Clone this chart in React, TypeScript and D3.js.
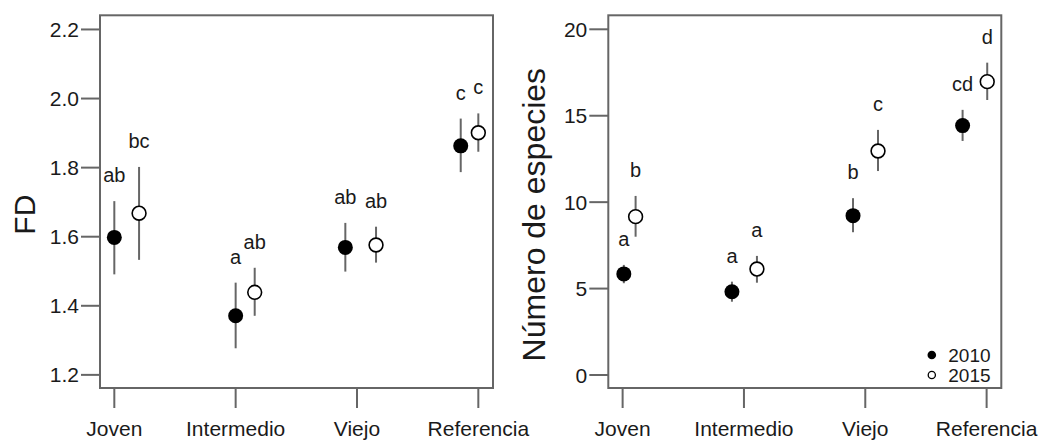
import React from "react";
import * as d3 from "d3";

const categories = ["Joven", "Intermedio", "Viejo", "Referencia"];

// Left panel: FD
const fdMean2010 = [1.598, 1.371, 1.569, 1.863];
const fdLow2010 = [1.491, 1.277, 1.499, 1.787];
const fdHigh2010 = [1.703, 1.467, 1.640, 1.942];
const fdPos2010 = [1.0, 2.0, 2.904, 3.855];
const fdLetters2010 = ["ab", "a", "ab", "c"];

const fdMean2015 = [1.668, 1.439, 1.576, 1.901];
const fdLow2015 = [1.533, 1.371, 1.525, 1.846];
const fdHigh2015 = [1.802, 1.510, 1.629, 1.957];
const fdPos2015 = [1.204, 2.157, 3.157, 4.0];
const fdLetters2015 = ["bc", "ab", "ab", "c"];

const fdTicks = [1.2, 1.4, 1.6, 1.8, 2.0, 2.2];

// Right panel: Número de especies
const spMean2010 = [5.85, 4.82, 9.22, 14.43];
const spLow2010 = [5.31, 4.24, 8.26, 13.54];
const spHigh2010 = [6.37, 5.40, 10.23, 15.34];
const spPos2010 = [1.01, 1.901, 2.899, 3.802];
const spLetters2010 = ["a", "a", "b", "cd"];

const spMean2015 = [9.16, 6.13, 12.96, 16.97];
const spLow2015 = [8.0, 5.34, 11.8, 15.91];
const spHigh2015 = [10.36, 6.89, 14.18, 18.07];
const spPos2015 = [1.107, 2.107, 3.105, 4.005];
const spLetters2015 = ["b", "a", "c", "d"];

const spTicks = [0, 5, 10, 15, 20];

const legendLabels = ["2010", "2015"];

const FONT = "'Liberation Sans', Arial, Helvetica, sans-serif";
const TEXT = "#1a1a1a";
const LINE = "#666";

type Series = {
  mean: number[];
  low: number[];
  high: number[];
  pos: number[];
  letters: string[];
  filled: boolean;
};

type PanelProps = {
  left: number;
  width: number;
  top: number;
  bottom: number;
  yDomain: [number, number];
  ticks: number[];
  tickFmt: (v: number) => string;
  series: Series[];
  yTitle: string;
  yTitleX: number;
  yTitleSize: number;
  legend?: boolean;
};

function Panel(p: PanelProps) {
  const x = d3.scaleLinear().domain([0.882, 4.121]).range([p.left, p.left + p.width]);
  const y = d3.scaleLinear().domain(p.yDomain).range([p.bottom, p.top]);
  const midY = (p.top + p.bottom) / 2 + 13;
  return (
    <g>
      {/* box */}
      <rect x={p.left} y={p.top} width={p.width} height={p.bottom - p.top} fill="none" stroke={LINE} strokeWidth={2} />
      {/* y axis ticks */}
      {p.ticks.map((t) => (
        <g key={"y" + t}>
          <line x1={p.left - 19} x2={p.left} y1={y(t)} y2={y(t)} stroke={LINE} strokeWidth={2} />
          <text x={p.left - 21} y={y(t)} dy="0.36em" textAnchor="end" fontSize={21} fill={TEXT} fontFamily={FONT}>
            {p.tickFmt(t)}
          </text>
        </g>
      ))}
      {/* x axis ticks */}
      {categories.map((c, i) => (
        <g key={"x" + c}>
          <line x1={x(i + 1)} x2={x(i + 1)} y1={p.bottom} y2={p.bottom + 20} stroke={LINE} strokeWidth={2} />
          <text x={x(i + 1)} y={436} textAnchor="middle" fontSize={21} fill={TEXT} fontFamily={FONT}>
            {c}
          </text>
        </g>
      ))}
      {/* series */}
      {p.series.map((s, si) =>
        s.mean.map((m, i) => (
          <g key={"s" + si + "_" + i}>
            <line x1={x(s.pos[i])} x2={x(s.pos[i])} y1={y(s.low[i])} y2={y(s.high[i])} stroke={LINE} strokeWidth={2} />
            <circle
              cx={x(s.pos[i])}
              cy={y(m)}
              r={s.filled ? 7.5 : 6.9}
              fill={s.filled ? "#000" : "#fff"}
              stroke="#000"
              strokeWidth={s.filled ? 0 : 1.6}
            />
            <text x={x(s.pos[i])} y={y(s.high[i]) - 19} textAnchor="middle" fontSize={20} fill={TEXT} fontFamily={FONT}>
              {s.letters[i]}
            </text>
          </g>
        ))
      )}
      {/* y title */}
      <text
        transform={`translate(${p.yTitleX},${midY}) rotate(-90)`}
        textAnchor="middle"
        fontSize={p.yTitleSize}
        fill={TEXT}
        fontFamily={FONT}
      >
        {p.yTitle}
      </text>
      {p.legend && (
        <g>
          {legendLabels.map((l, i) => (
            <g key={l}>
              <circle
                cx={p.left + p.width - 69.5}
                cy={355 + i * 20}
                r={i === 0 ? 4.3 : 3.6}
                fill={i === 0 ? "#000" : "#fff"}
                stroke="#000"
                strokeWidth={i === 0 ? 0 : 1.3}
              />
              <text x={p.left + p.width - 53} y={355 + i * 20} dy="0.36em" fontSize={19} fill={TEXT} fontFamily={FONT}>
                {l}
              </text>
            </g>
          ))}
        </g>
      )}
    </g>
  );
}

export default function App() {
  const fdSeries: Series[] = [
    { mean: fdMean2010, low: fdLow2010, high: fdHigh2010, pos: fdPos2010, letters: fdLetters2010, filled: true },
    { mean: fdMean2015, low: fdLow2015, high: fdHigh2015, pos: fdPos2015, letters: fdLetters2015, filled: false },
  ];
  const spSeries: Series[] = [
    { mean: spMean2010, low: spLow2010, high: spHigh2010, pos: spPos2010, letters: spLetters2010, filled: true },
    { mean: spMean2015, low: spLow2015, high: spHigh2015, pos: spPos2015, letters: spLetters2015, filled: false },
  ];
  return (
    <svg
      width={1041}
      height={441}
      style={{ position: "absolute", left: 0, top: 0, background: "#fff" }}
    >
      <rect width={1041} height={441} fill="#fff" />
      <Panel
        left={100}
        width={393}
        top={15.3}
        bottom={388}
        yDomain={[1.162, 2.241]}
        ticks={fdTicks}
        tickFmt={(v) => v.toFixed(1)}
        series={fdSeries}
        yTitle="FD"
        yTitleX={35}
        yTitleSize={30}
      />
      <Panel
        left={608.3}
        width={393}
        top={15.3}
        bottom={388}
        yDomain={[-0.752, 20.81]}
        ticks={spTicks}
        tickFmt={(v) => String(v)}
        series={spSeries}
        yTitle="Número de especies"
        yTitleX={545}
        yTitleSize={32}
        legend
      />
    </svg>
  );
}
